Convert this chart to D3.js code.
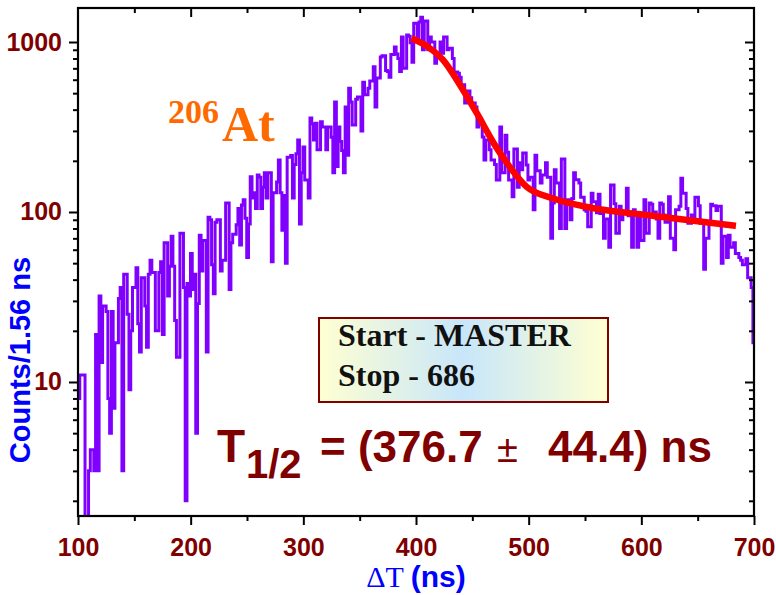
<!DOCTYPE html>
<meta charset="utf-8">
<script src="https://d3js.org/d3.v7.min.js"></script>
<style>
  body { margin: 0; background: #fff; }
  .tick text { font-family: "Liberation Sans", Arial, sans-serif; font-weight: bold; font-size: 25px; fill: #800000; }
  .tick line { stroke: #000; stroke-width: 2px; }
</style>
<div id="chart"></div>
<script>

// histogram: counts per 1.56 ns bin, starting at 100 ns
var binStart = 100, binWidth = 1.56;
var counts = [
  8, 11, 11, 11, 1, 1, 3, 4, 4, 3, 19, 3, 32, 13, 28, 28, 26, 8, 5, 26,
  7, 17, 17, 31, 36, 3, 43, 43, 25, 9, 20, 36, 36, 47, 22, 15, 41, 41, 28, 16,
  43, 52, 44, 44, 20, 20, 44, 51, 19, 66, 66, 32, 48, 72, 48, 23, 14, 14, 75, 75,
  36, 2, 38, 32,
  57, 35, 43, 5, 29, 73, 45, 68, 68, 15, 93, 90, 49, 33, 87, 90, 90, 45, 52, 52,
  113, 113, 35, 66, 74, 74, 84, 105, 64, 110, 118, 92, 54, 85, 161, 121, 130, 105, 165, 160,
  105, 140, 170, 121, 170, 170, 51, 130, 130, 150, 202, 130, 78, 125, 50, 210, 210, 215, 121, 190,
  220, 265, 85,
  170, 241, 154, 154, 121, 357, 330, 265, 333, 232, 232, 340, 316, 316, 232, 316, 316, 275, 170, 443,
  185, 316, 260, 230, 170, 414, 216, 535, 443, 325, 325, 460, 475, 475, 300, 580, 490, 490, 535, 590,
  590, 715, 414, 615, 615, 815, 830, 830, 680, 670, 620, 845, 845, 935, 850, 800, 670, 1070, 700, 700,
  1100, 1080, 990,
  760, 1290, 1290, 1030, 1310, 1400, 900, 1330, 1330, 900, 1070, 1000, 1000, 750, 860, 860, 1000, 860, 1070, 1070,
  900, 920, 920, 800, 665, 665, 655, 620, 560, 560, 437, 515, 515, 470, 437, 437, 415, 316, 340, 340,
  276, 202, 265, 265, 232, 202, 202, 190, 154, 154, 316, 170, 170, 283, 225, 154, 154, 123, 235, 235,
  140, 195,
  177, 222, 222, 189, 154, 160, 160, 103, 216, 175, 175, 148, 165, 165, 195, 160, 160, 70, 113, 177,
  148, 148, 80, 205, 205, 80, 118, 118, 90, 120, 170, 155, 155, 148, 122, 122, 103, 101, 82, 82,
  129, 115, 115, 99, 127, 98, 98, 70, 91, 91, 62, 144, 144, 112, 75, 75, 108, 90, 98, 98,
  138, 95, 95, 62, 103,
  96, 62, 92, 68, 68, 118, 75, 75, 113, 111, 100, 100, 91, 70, 113, 111, 96, 87, 87, 123,
  70, 70, 60, 103, 103, 108, 158, 129, 129, 105, 86, 86, 96, 88, 122, 122, 109, 86, 86, 46,
  70, 70, 86, 111, 109, 109, 102, 108, 108, 50, 72, 72, 54, 73, 62, 62, 66, 57, 57, 54,
  52, 49, 49, 53, 41, 41, 36, 17
];

// fitted curve
var fitT = [396, 412, 424, 439, 454, 469, 483, 498, 522, 552, 581, 599, 639, 684];
var fitC = [1051, 922, 784, 559, 381, 254, 185, 141, 120, 107, 100, 97, 90, 83];

// axis ticks
var xTicks = [100, 200, 300, 400, 500, 600, 700];
var xMinor = [150, 250, 350, 450, 550, 650];
var yTicks = [10, 100, 1000];

var W = 776, H = 595;
var pL = 78, pR = 754, pT = 8, pB = 516;

var svg = d3.select("#chart").append("svg")
  .attr("width", W).attr("height", H);

var x = d3.scaleLinear().domain([100, 700]).range([pL, pR]);
var y = d3.scaleLog().domain([1.628, 1585]).range([pB, pT]);

// minor log ticks
var yMinor = [];
[1, 10, 100, 1000].forEach(function(p) {
  for (var k = 2; k <= 9; k++) {
    var v = k * p;
    if (v >= 1.628 && v <= 1585) yMinor.push(v);
  }
});

svg.append("clipPath").attr("id", "plotclip")
  .append("rect").attr("x", pL).attr("y", pT)
  .attr("width", pR - pL).attr("height", pB - pT);

// histogram as a step line
var pts = counts.map(function(c, i) { return [binStart + i * binWidth, c]; });
pts.push([binStart + counts.length * binWidth, counts[counts.length - 1]]);

var step = d3.line()
  .x(function(d) { return x(d[0]); })
  .y(function(d) { return y(Math.max(d[1], 0.5)); })
  .curve(d3.curveStepAfter);

svg.append("path")
  .datum(pts)
  .attr("clip-path", "url(#plotclip)")
  .attr("d", step)
  .attr("fill", "none")
  .attr("stroke", "#8000ff")
  .attr("stroke-width", 3);

// fit
var fitPts = fitT.map(function(t, i) { return [t, fitC[i]]; });
svg.append("path")
  .datum(fitPts)
  .attr("d", d3.line()
    .x(function(d) { return x(d[0]); })
    .y(function(d) { return y(d[1]); })
    .curve(d3.curveMonotoneX))
  .attr("fill", "none")
  .attr("stroke", "#ff0000")
  .attr("stroke-width", 6.5);

// axes
function noDomain(g) { g.select(".domain").remove(); }

svg.append("g").attr("transform", "translate(0," + pB + ")")
  .call(d3.axisBottom(x).tickValues(xTicks).tickSize(9).tickSizeOuter(0).tickPadding(13).tickFormat(d3.format("d")))
  .call(noDomain);
svg.append("g").attr("transform", "translate(0," + pB + ")")
  .call(d3.axisBottom(x).tickValues(xMinor).tickSize(5).tickFormat(""))
  .call(noDomain);
svg.append("g").attr("transform", "translate(0," + pT + ")")
  .call(d3.axisBottom(x).tickValues(xTicks.slice(1, -1)).tickSize(9).tickFormat(""))
  .call(noDomain);
svg.append("g").attr("transform", "translate(0," + pT + ")")
  .call(d3.axisBottom(x).tickValues(xMinor).tickSize(5).tickFormat(""))
  .call(noDomain);

svg.append("g").attr("transform", "translate(" + pL + ",0)")
  .call(d3.axisLeft(y).tickValues(yTicks).tickSize(9).tickPadding(7).tickFormat(d3.format("d")))
  .call(noDomain);
svg.append("g").attr("transform", "translate(" + pL + ",0)")
  .call(d3.axisLeft(y).tickValues(yMinor).tickSize(5).tickFormat(""))
  .call(noDomain);
svg.append("g").attr("transform", "translate(" + pR + ",0)")
  .call(d3.axisLeft(y).tickValues(yTicks).tickSize(9).tickFormat(""))
  .call(noDomain);
svg.append("g").attr("transform", "translate(" + pR + ",0)")
  .call(d3.axisLeft(y).tickValues(yMinor).tickSize(5).tickFormat(""))
  .call(noDomain);

svg.append("rect")
  .attr("x", pL).attr("y", pT)
  .attr("width", pR - pL).attr("height", pB - pT)
  .attr("fill", "none").attr("stroke", "#000").attr("stroke-width", 2.2);

// axis titles
var xt = svg.append("text")
  .attr("x", 416).attr("y", 587)
  .attr("text-anchor", "middle")
  .attr("fill", "#0000ff")
  .style("font-size", "30px");
xt.append("tspan").style("font-family", "'Liberation Serif', 'Times New Roman', serif").text("\u0394T ");
xt.append("tspan").style("font-family", "'Liberation Sans', Arial, sans-serif").style("font-weight", "bold").text("(ns)");

svg.append("text")
  .attr("transform", "translate(30,360) rotate(-90)")
  .attr("text-anchor", "middle")
  .attr("fill", "#0000ff")
  .style("font-family", "'Liberation Sans', Arial, sans-serif")
  .style("font-weight", "bold")
  .style("font-size", "29px")
  .text("Counts/1.56 ns");

// isotope label
var iso = svg.append("g").attr("fill", "#ff6a00")
  .style("font-family", "'Liberation Serif', 'Times New Roman', serif")
  .style("font-weight", "bold");
iso.append("text").attr("x", 168).attr("y", 123).style("font-size", "34px").text("206");
iso.append("text").attr("x", 222).attr("y", 141).style("font-size", "50px").text("At");

// start/stop box
var defs = svg.append("defs");
var grad = defs.append("linearGradient").attr("id", "boxgrad")
  .attr("x1", "0%").attr("x2", "100%").attr("y1", "0%").attr("y2", "0%");
grad.append("stop").attr("offset", "0%").attr("stop-color", "#ffffd2");
grad.append("stop").attr("offset", "50%").attr("stop-color", "#c8e6fa");
grad.append("stop").attr("offset", "100%").attr("stop-color", "#ffffd2");

svg.append("rect")
  .attr("x", 319).attr("y", 318).attr("width", 289).attr("height", 84)
  .attr("fill", "url(#boxgrad)")
  .attr("stroke", "#800000").attr("stroke-width", 2);

var box = svg.append("g").attr("fill", "#111")
  .style("font-family", "'Liberation Serif', 'Times New Roman', serif")
  .style("font-weight", "bold")
  .style("font-size", "32px");
box.append("text").attr("x", 338).attr("y", 346).text("Start - MASTER");
box.append("text").attr("x", 338).attr("y", 386).text("Stop - 686");

// half-life
var hl = svg.append("g").attr("fill", "#800000")
  .style("font-family", "'Liberation Sans', Arial, sans-serif")
  .style("font-weight", "bold");
hl.append("text").attr("x", 217).attr("y", 462).style("font-size", "46px").text("T");
hl.append("text").attr("x", 246).attr("y", 478).style("font-size", "40px").text("1/2");
hl.append("text").attr("x", 320).attr("y", 462).style("font-size", "44px").text("= (376.7");
hl.append("text").attr("x", 497).attr("y", 462).style("font-size", "38px").style("font-weight", "normal").text("\u00b1");
hl.append("text").attr("x", 548).attr("y", 462).style("font-size", "44px").text("44.4) ns");

</script>
